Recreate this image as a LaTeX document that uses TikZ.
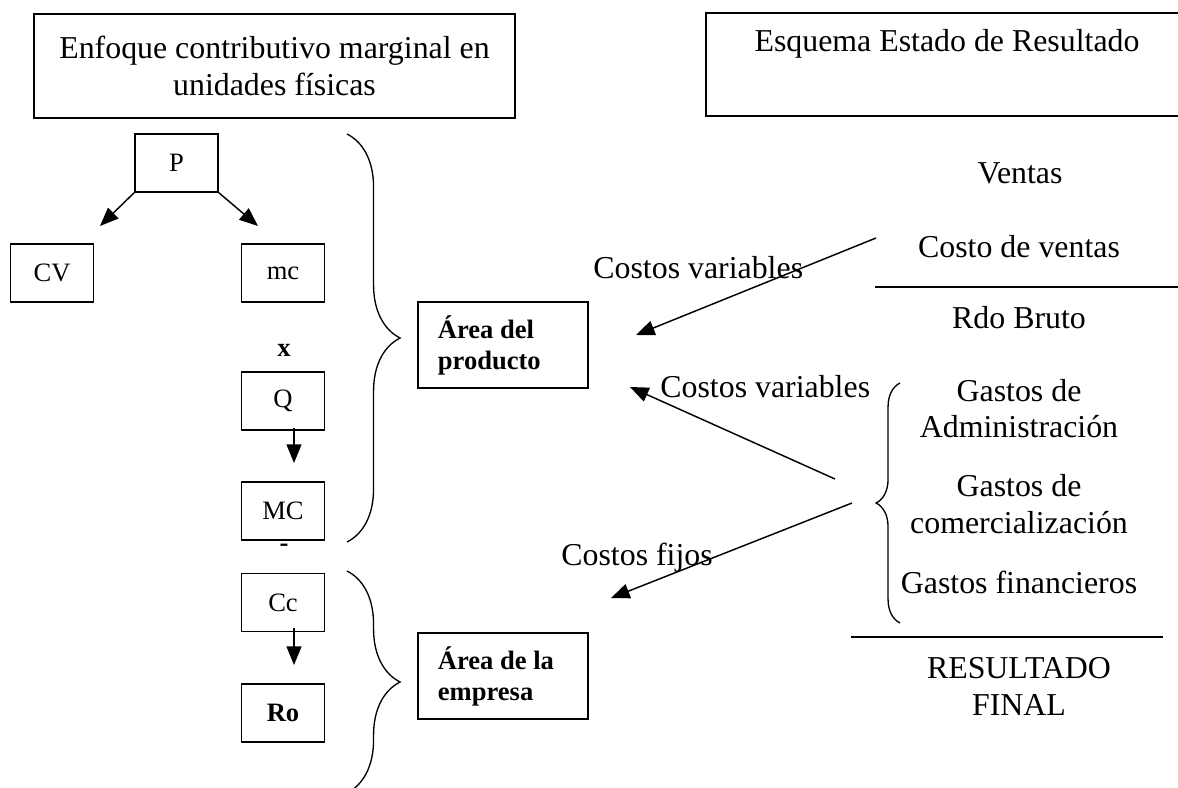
\documentclass[tikz,border=0pt]{standalone}
\usepackage{fontspec}
\setmainfont{Liberation Serif}
\usetikzlibrary{arrows.meta, decorations.pathreplacing}

\tikzstyle{titlebox} = [rectangle, text centered, draw=black, line width=0.6pt, align=center, minimum width=181pt, minimum height=39pt]
\tikzstyle{var} = [rectangle, text centered, draw=black, line width=0.6pt, font=\fontsize{10}{12}\selectfont, minimum width=31.3pt, minimum height=21.8pt, inner sep=0pt]
\tikzstyle{area} = [rectangle, draw=black, line width=0.6pt, font=\fontsize{10}{11.7}\selectfont\bfseries, text width=49pt, align=flush left, inner xsep=7.5pt, minimum height=32.4pt]
\tikzstyle{item} = [align=center]
\tikzstyle{op} = [font=\fontsize{10}{12}\selectfont\bfseries]
\tikzstyle{arrow} = [line width=0.55pt, -{Triangle[length=7pt,width=5.6pt]}]
\tikzstyle{bigbrace} = [line width=0.5pt, decorate, decoration={brace, amplitude=20pt}]
\tikzstyle{smallbrace} = [line width=0.5pt, decorate, decoration={brace, amplitude=9pt}]

\begin{document}
\begin{tikzpicture}[x=0.3766pt, y=-0.3766pt, font=\fontsize{12}{13.8}\selectfont]
\useasboundingbox (0,0) rectangle (1178,787);

% titles
\node (enfoque) [titlebox] at (274.5,66) {Enfoque contributivo marginal en\\unidades físicas};
\node (esquema) [titlebox, minimum width=181.5pt] at (947,64.5) {Esquema Estado de Resultado\\ \strut};

% left chain
\node (P) [var] at (176.5,163) {P};
\node (CV) [var] at (52,273) {CV};
\node (mc) [var] at (283,273) {mc};
\node (times) [op] at (284,350) {x};
\node (Q) [var] at (283,401) {Q};
\node (MC) [var] at (283,511) {MC};
\node (minus) [op] at (284,548) {-};
\node (Cc) [var] at (283,602.5) {Cc};
\node (Ro) [var, font=\fontsize{10}{12}\selectfont\bfseries] at (283,713) {Ro};

\node (prod) [area] at (503,345) {Área del producto};
\node (emp) [area] at (503,676) {Área de la empresa};

% income statement
\node (ventas) [item] at (1020,173) {Ventas};
\node (cdv) [item] at (1019,247) {Costo de ventas};
\node (bruto) [item] at (1019,318) {Rdo Bruto};
\node (admin) [item] at (1019,408.5) {Gastos de\\Administración};
\node (comer) [item] at (1019,504) {Gastos de\\comercialización};
\node (finan) [item] at (1019,582) {Gastos financieros};
\node (final) [item] at (1019,686.5) {RESULTADO\\FINAL};

\node (cvar1) [anchor=base west] at (584,278) {Costos variables};
\node (cvar2) [anchor=base west] at (651,397) {Costos variables};
\node (cfijo) [anchor=base west] at (552,565) {Costos fijos};

\coordinate (cvtip) at (100,226);
\coordinate (mctip) at (258,226);
\coordinate (qtip) at (294,463);
\coordinate (cctip) at (294,665);
\coordinate (s1) at (876,238);
\coordinate (t1) at (636,335);
\coordinate (s2) at (835,479);
\coordinate (t2) at (630,387);
\coordinate (s3) at (852,503);
\coordinate (t3) at (611,598);

\draw [arrow] (P.south west) -- (cvtip);
\draw [arrow] (P.south east) -- (mctip);
\draw [arrow] ([yshift=1.1pt]Q.south -| qtip) -- (qtip);
\draw [arrow] ([yshift=1.5pt]Cc.south -| cctip) -- (cctip);
\draw [arrow] (s1) -- (t1);
\draw [arrow] (s2) -- (t2);
\draw [arrow] (s3) -- (t3);

% braces
\coordinate (b1top) at (347,134);
\coordinate (b1bot) at (347,542);
\coordinate (b2top) at (347,571);
\coordinate (b2bot) at (347,793);
\coordinate (b3top) at (900,383);
\coordinate (b3bot) at (900,623);
\draw [bigbrace] (b1top) -- (b1bot);
\draw [bigbrace] (b2top) -- (b2bot);
\draw [smallbrace] (b3bot) -- (b3top);

% rules
\draw [line width=0.6pt] (875,287) -- (1188,287);
\draw [line width=0.6pt] (851,637) -- (1163,637);

\end{tikzpicture}
\end{document}
